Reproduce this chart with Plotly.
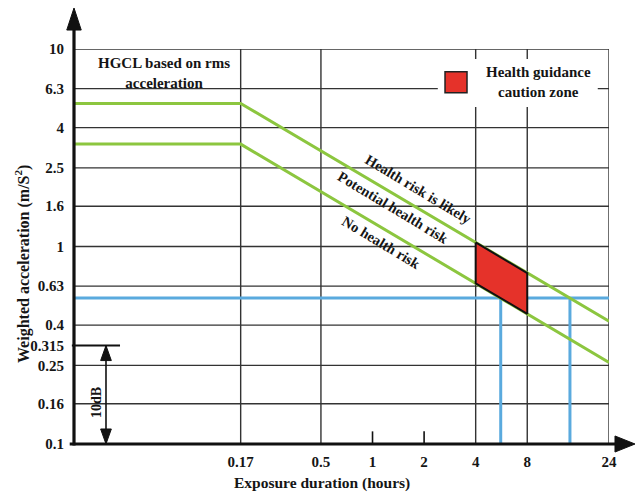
import math
import plotly.graph_objects as go

# ---- data ----
y_ticks = [0.1, 0.16, 0.25, 0.315, 0.4, 0.63, 1, 1.6, 2.5, 4, 6.3, 10]
y_tick_labels = ["0.1", "0.16", "0.25", "0.315", "0.4", "0.63", "1", "1.6", "2.5", "4", "6.3", "10"]
y_grid = [0.16, 0.25, 0.4, 0.63, 1, 1.6, 2.5, 4, 6.3, 10]
x_ticks = [0.17, 0.5, 1, 2, 4, 8, 24]
x_tick_labels = ["0.17", "0.5", "1", "2", "4", "8", "24"]
x_grid = [0.17, 0.5, 4, 8, 24]
x_small_ticks = [1, 2]
x_start = 0.0181
x_end = 24

upper_x = [x_start, 0.17, 24]
upper_y = [5.3, 5.3, 0.418]
lower_x = [x_start, 0.17, 24]
lower_y = [3.3, 3.3, 0.259]

zone_x = [4, 8, 8, 4, 4]
zone_y = [1.048, 0.734, 0.456, 0.651, 1.048]

blue_level = 0.548
blue_x = [5.6, 14.2]

db_top = 0.315
db_bottom = 0.1

FONT = "Liberation Serif"
TXT = "#151515"
GRID = "#333333"
GREEN = "#8cc63f"
BLUE = "#5aaade"
RED = "#e5322a"

fig = go.Figure()

# blue reference lines
fig.add_trace(go.Scatter(x=[x_start, x_end], y=[blue_level, blue_level], mode="lines",
                         line=dict(color=BLUE, width=3), showlegend=False, hoverinfo="skip"))
for bx in blue_x:
    fig.add_trace(go.Scatter(x=[bx, bx], y=[blue_level, db_bottom], mode="lines",
                             line=dict(color=BLUE, width=3), showlegend=False, hoverinfo="skip"))

# green HGCZ bounds
fig.add_trace(go.Scatter(x=upper_x, y=upper_y, mode="lines",
                         line=dict(color=GREEN, width=3), showlegend=False, hoverinfo="skip"))
fig.add_trace(go.Scatter(x=lower_x, y=lower_y, mode="lines",
                         line=dict(color=GREEN, width=3), showlegend=False, hoverinfo="skip"))

# red caution zone
fig.add_trace(go.Scatter(x=zone_x, y=zone_y, mode="lines", fill="toself", fillcolor=RED,
                         line=dict(color="#111111", width=2), showlegend=False, hoverinfo="skip"))

shapes = []
# gridlines
for gy in y_grid:
    shapes.append(dict(type="line", xref="paper", yref="y", x0=0, x1=1, y0=gy, y1=gy,
                       line=dict(color=GRID, width=1.4), layer="below"))
for gx in x_grid:
    shapes.append(dict(type="line", xref="x", yref="paper", x0=gx, x1=gx, y0=0, y1=1,
                       line=dict(color=GRID, width=1.4), layer="below"))
# legend box covering gridlines
shapes.append(dict(type="rect", xref="paper", yref="paper", x0=0.680, x1=0.979, y0=0.853, y1=0.975,
                   fillcolor="white", line=dict(width=0), layer="below"))
shapes.append(dict(type="rect", xref="paper", yref="paper", x0=0.6935, x1=0.7346, y0=0.8894, y1=0.9425,
                   fillcolor=RED, line=dict(color="#222222", width=1.5), layer="above"))
# small ticks at 1 and 2
for tx in x_small_ticks:
    shapes.append(dict(type="line", xref="x", yref="paper", x0=tx, x1=tx, y0=0, y1=0.032,
                       line=dict(color="#111111", width=1.6), layer="above"))
# axes with arrows
shapes.append(dict(type="line", xref="paper", yref="paper", x0=0, x1=0, y0=-0.004, y1=1.05,
                   line=dict(color="#111111", width=3.2), layer="above"))
shapes.append(dict(type="line", xref="paper", yref="paper", x0=-0.008, x1=1.012, y0=0, y1=0,
                   line=dict(color="#111111", width=3.2), layer="above"))
shapes.append(dict(type="path", xref="paper", yref="paper",
                   path="M -0.0135 1.048 L 0.0135 1.048 L 0 1.1038 Z",
                   fillcolor="#111111", line=dict(color="#111111", width=1), layer="above"))
shapes.append(dict(type="path", xref="paper", yref="paper",
                   path="M 1.0112 -0.0203 L 1.0112 0.0203 L 1.0486 0 Z",
                   fillcolor="#111111", line=dict(color="#111111", width=1), layer="above"))
# 10 dB marker
shapes.append(dict(type="line", xref="paper", yref="y", x0=-0.004, x1=0.086, y0=db_top, y1=db_top,
                   line=dict(color="#111111", width=2), layer="above"))
shapes.append(dict(type="line", xref="paper", yref="y", x0=0.0598, x1=0.0598, y0=db_top, y1=db_bottom,
                   line=dict(color="#111111", width=1.6), layer="above"))
ah = 10 ** 0.076
shapes.append(dict(type="path", xref="paper", yref="paper",
                   path="M 0.0498 %.4f L 0.0698 %.4f L 0.0598 %.4f Z" % (
                       (1 + math.log10(db_top / ah)) / 2, (1 + math.log10(db_top / ah)) / 2,
                       (1 + math.log10(db_top)) / 2),
                   fillcolor="#111111", line=dict(color="#111111", width=1), layer="above"))
shapes.append(dict(type="path", xref="paper", yref="paper",
                   path="M 0.0498 %.4f L 0.0698 %.4f L 0.0598 %.4f Z" % (
                       (1 + math.log10(db_bottom * ah)) / 2, (1 + math.log10(db_bottom * ah)) / 2,
                       (1 + math.log10(db_bottom)) / 2),
                   fillcolor="#111111", line=dict(color="#111111", width=1), layer="above"))

bold = dict(family=FONT, size=15, color=TXT, weight="bold")


def ann(text, x, y, size=15, angle=0, xshift=0, yshift=0):
    return dict(text="<b>%s</b>" % text, xref="paper", yref="paper", x=x, y=y,
                xanchor="center", yanchor="middle", xshift=xshift, yshift=yshift,
                showarrow=False, align="center", textangle=angle,
                font=dict(family=FONT, size=size, color=TXT, weight="bold"))


annotations = [
    ann("HGCL based on rms<br>acceleration", 0.1673, 0.939),
    ann("Health guidance<br>caution zone", 0.8673, 0.9165),
    ann("Health risk is likely", 0.643, 0.6456, size=14.5, angle=31),
    ann("Potential health risk", 0.598, 0.5975, size=14.5, angle=31),
    ann("No health risk", 0.5757, 0.5089, size=14.5, angle=31),
    ann("10dB", 0.043, 0.1038, size=14, angle=-90),
    ann("Exposure duration (hours)", 0.463, 0, size=15.5, yshift=-39),
    ann("Weighted acceleration (m/S<sup>2</sup>)", 0, 0.4557, size=16, angle=-90, xshift=-51),
]

fig.update_layout(
    width=640, height=492,
    margin=dict(l=74, r=31, t=49, b=48),
    paper_bgcolor="white", plot_bgcolor="white",
    shapes=shapes, annotations=annotations, showlegend=False,
    xaxis=dict(type="log", range=[math.log10(x_start), math.log10(x_end)],
               tickvals=x_ticks, ticktext=x_tick_labels, showgrid=False, zeroline=False,
               showline=False, ticks="outside", ticklen=4, tickcolor="rgba(0,0,0,0)",
               tickfont=bold),
    yaxis=dict(type="log", range=[-1, 1], tickvals=y_ticks, ticktext=y_tick_labels,
               showgrid=False, zeroline=False, showline=False, ticks="outside", ticklen=6,
               tickcolor="rgba(0,0,0,0)", tickfont=bold),
)

fig.write_html("out.html", config={"displayModeBar": False},
               post_script="document.body.style.margin='0';")
